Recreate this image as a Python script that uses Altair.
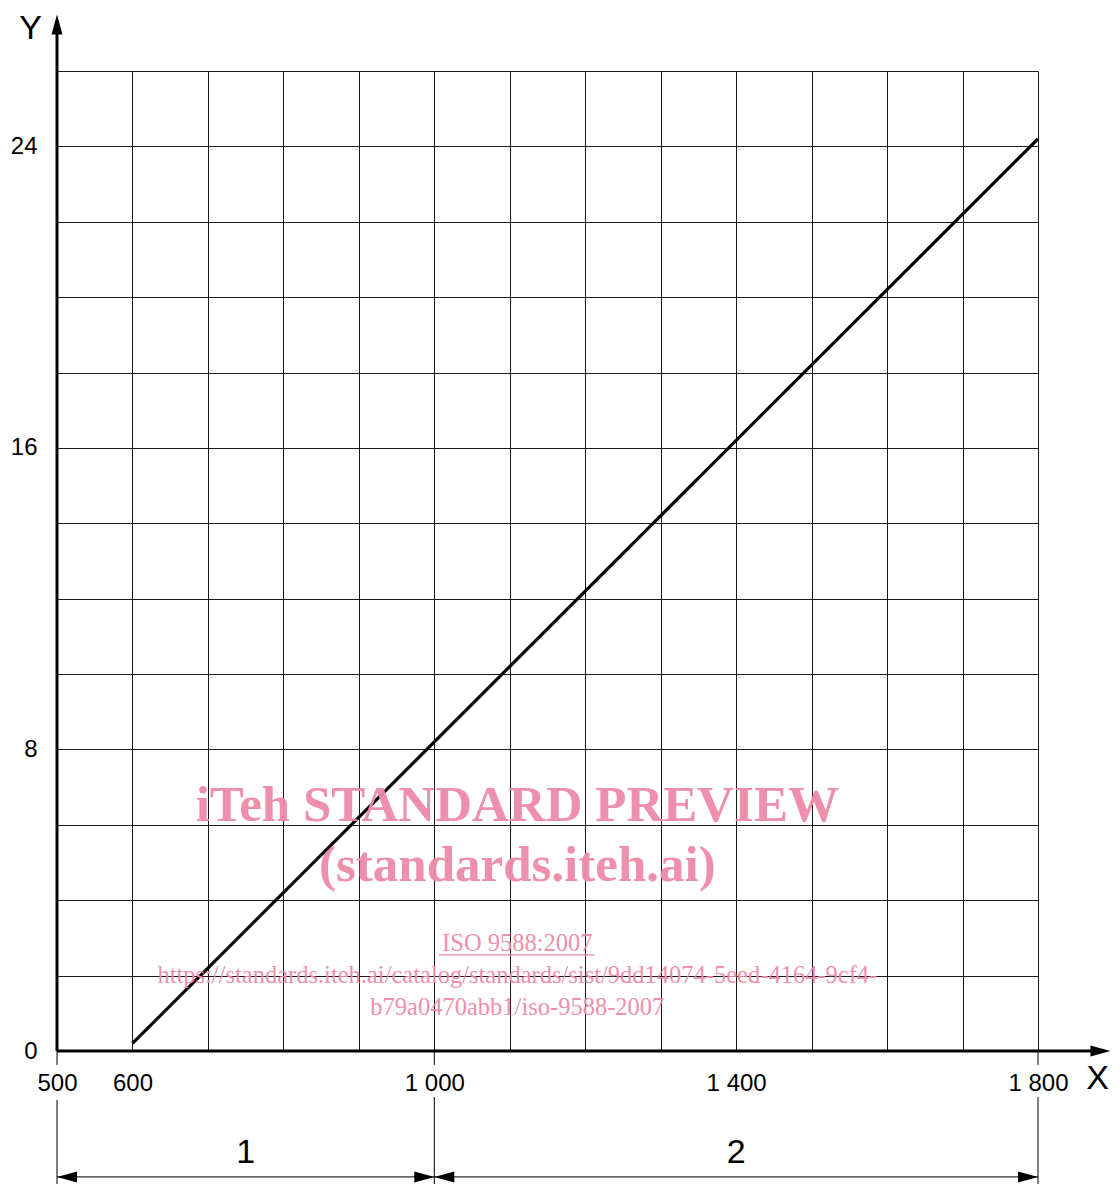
import altair as alt
import pandas as pd

# ---- data ----
x_grid = list(range(500, 1801, 100))
y_grid = list(range(0, 27, 2))
x_labels = {500: "500", 600: "600", 1000: "1 000", 1400: "1 400", 1800: "1 800"}
y_labels = [0, 8, 16, 24]

line_x = [600, 1800]
line_y = [0.2, 24.2]

dim_bounds = [500, 1000, 1800]
dim_names = ["1", "2"]

wm_color = "#ee8aa8"

X_DOM = [500, 1800]
Y_DOM = [0, 26]

xs = alt.Scale(domain=X_DOM, nice=False, zero=False)
ys = alt.Scale(domain=Y_DOM, nice=False, zero=False)

lab_expr_x = " : ".join(
    [f"datum.value == {k} ? '{v}'" for k, v in x_labels.items()]) + " : ''"
lab_expr_y = " : ".join(
    [f"datum.value == {k} ? '{k}'" for k in y_labels]) + " : ''"

base = alt.Chart(pd.DataFrame({"x": line_x, "y": line_y}))

grid_layer = base.mark_line(opacity=0).encode(
    x=alt.X("x:Q", scale=xs, title=None,
            axis=alt.Axis(values=x_grid, grid=True, gridColor="#1a1a1a",
                          gridWidth=1, gridOpacity=1, ticks=False, domain=False,
                          labelExpr=lab_expr_x, labelFont="Liberation Sans",
                          labelFontSize=24, labelColor="#000",
                          labelPadding=20, labelOverlap=False,
                          labelFlush=False)),
    y=alt.Y("y:Q", scale=ys, title=None,
            axis=alt.Axis(values=y_grid, grid=True, gridColor="#1a1a1a",
                          gridWidth=1, gridOpacity=1, ticks=False, domain=False,
                          labelExpr=lab_expr_y, labelFont="Liberation Sans",
                          labelFontSize=24, labelColor="#000",
                          labelPadding=20, labelOverlap=False,
                          labelFlush=False)),
)

data_line = base.mark_line(color="#000", strokeWidth=3.2).encode(
    x=alt.X("x:Q", scale=xs), y=alt.Y("y:Q", scale=ys))

# axis lines with arrows
axes_df = pd.DataFrame({
    "x": [500, 500], "x2": [500, 1885], "y": [0, 0], "y2": [27.3, 0]})
axes_lines = alt.Chart(axes_df).mark_rule(color="#000", strokeWidth=3).encode(
    x=alt.X("x:Q", scale=xs), x2="x2:Q", y=alt.Y("y:Q", scale=ys), y2="y2:Q")

up_arrow = alt.Chart(pd.DataFrame({"x": [500], "y": [27.5]})).mark_point(
    shape="M0,0L-0.55,2L0.55,2Z", size=400, filled=True, color="#000",
    opacity=1).encode(x=alt.X("x:Q", scale=xs), y=alt.Y("y:Q", scale=ys))

right_arrows = alt.Chart(pd.DataFrame({
    "x": [1896, 1000, 1800], "y": [0, -3.34, -3.34]})).mark_point(
    shape="M0,0L-2,-0.55L-2,0.55Z", size=400, filled=True, color="#000",
    opacity=1).encode(x=alt.X("x:Q", scale=xs), y=alt.Y("y:Q", scale=ys))

left_arrows = alt.Chart(pd.DataFrame({
    "x": [500, 1000], "y": [-3.34, -3.34]})).mark_point(
    shape="M0,0L2,-0.55L2,0.55Z", size=400, filled=True, color="#000",
    opacity=1).encode(x=alt.X("x:Q", scale=xs), y=alt.Y("y:Q", scale=ys))

# thin extension lines below the axis and dimension lines
ext_df = pd.DataFrame({
    "x": dim_bounds * 2,
    "y": [0, 0, 0, -1.3, -1.22, -1.22],
    "y2": [-0.37, -0.37, -0.37, -3.6, -3.6, -3.6]})
ext_lines = alt.Chart(ext_df).mark_rule(color="#000", strokeWidth=1).encode(
    x=alt.X("x:Q", scale=xs), y=alt.Y("y:Q", scale=ys), y2="y2:Q")

dim_df = pd.DataFrame({"x": [500], "x2": [1800], "y": [-3.34]})
dim_line = alt.Chart(dim_df).mark_rule(color="#000", strokeWidth=1).encode(
    x=alt.X("x:Q", scale=xs), x2="x2:Q", y=alt.Y("y:Q", scale=ys))

dim_lab_df = pd.DataFrame({
    "x": [(dim_bounds[0] + dim_bounds[1]) / 2, (dim_bounds[1] + dim_bounds[2]) / 2],
    "y": [-2.7, -2.7], "t": dim_names})
dim_labels = alt.Chart(dim_lab_df).mark_text(
    font="Liberation Sans", fontSize=34, color="#000", baseline="middle",
    align="center").encode(x=alt.X("x:Q", scale=xs), y=alt.Y("y:Q", scale=ys),
                           text="t:N")

axis_names = alt.Chart(pd.DataFrame({
    "x": [465, 1879], "y": [27.12, -0.74], "t": ["Y", "X"]})).mark_text(
    font="Liberation Sans", fontSize=34, color="#000", baseline="middle",
    align="center").encode(x=alt.X("x:Q", scale=xs), y=alt.Y("y:Q", scale=ys),
                           text="t:N")

# watermark
wm_big = alt.Chart(pd.DataFrame({
    "x": [1110, 1110], "y": [6.5, 4.91],
    "t": ["iTeh STANDARD PREVIEW", "(standards.iteh.ai)"]})).mark_text(
    font="Liberation Serif", fontWeight="bold", fontSize=51, color=wm_color,
    baseline="middle", align="center", opacity=0.95).encode(
    x=alt.X("x:Q", scale=xs), y=alt.Y("y:Q", scale=ys), text="t:N")

wm_small = alt.Chart(pd.DataFrame({
    "x": [1110, 1110, 1110], "y": [2.84, 1.99, 1.14],
    "t": ["ISO 9588:2007",
          "https://standards.iteh.ai/catalog/standards/sist/9dd14074-5eed-4164-9cf4-",
          "b79a0470abb1/iso-9588-2007"]})).mark_text(
    font="Liberation Serif", fontSize=24.5, color=wm_color,
    baseline="middle", align="center", opacity=0.95).encode(
    x=alt.X("x:Q", scale=xs), y=alt.Y("y:Q", scale=ys), text="t:N")

wm_underline = alt.Chart(pd.DataFrame({"x": [1006], "x2": [1213], "y": [2.55]})).mark_rule(
    color=wm_color, strokeWidth=1.2).encode(
    x=alt.X("x:Q", scale=xs), x2="x2:Q", y=alt.Y("y:Q", scale=ys))

chart = alt.layer(
    grid_layer, data_line, axes_lines, up_arrow, right_arrows, left_arrows,
    ext_lines, dim_line, dim_labels, axis_names, wm_big, wm_small, wm_underline
).properties(
    width=981, height=980,
    autosize=alt.AutoSizeParams(type="none"),
    padding={"left": 49, "top": 63, "right": 74, "bottom": 133},
).configure_view(stroke=None).configure(background="white")

chart.save("out.html", embed_options={"renderer": "svg", "actions": False})
